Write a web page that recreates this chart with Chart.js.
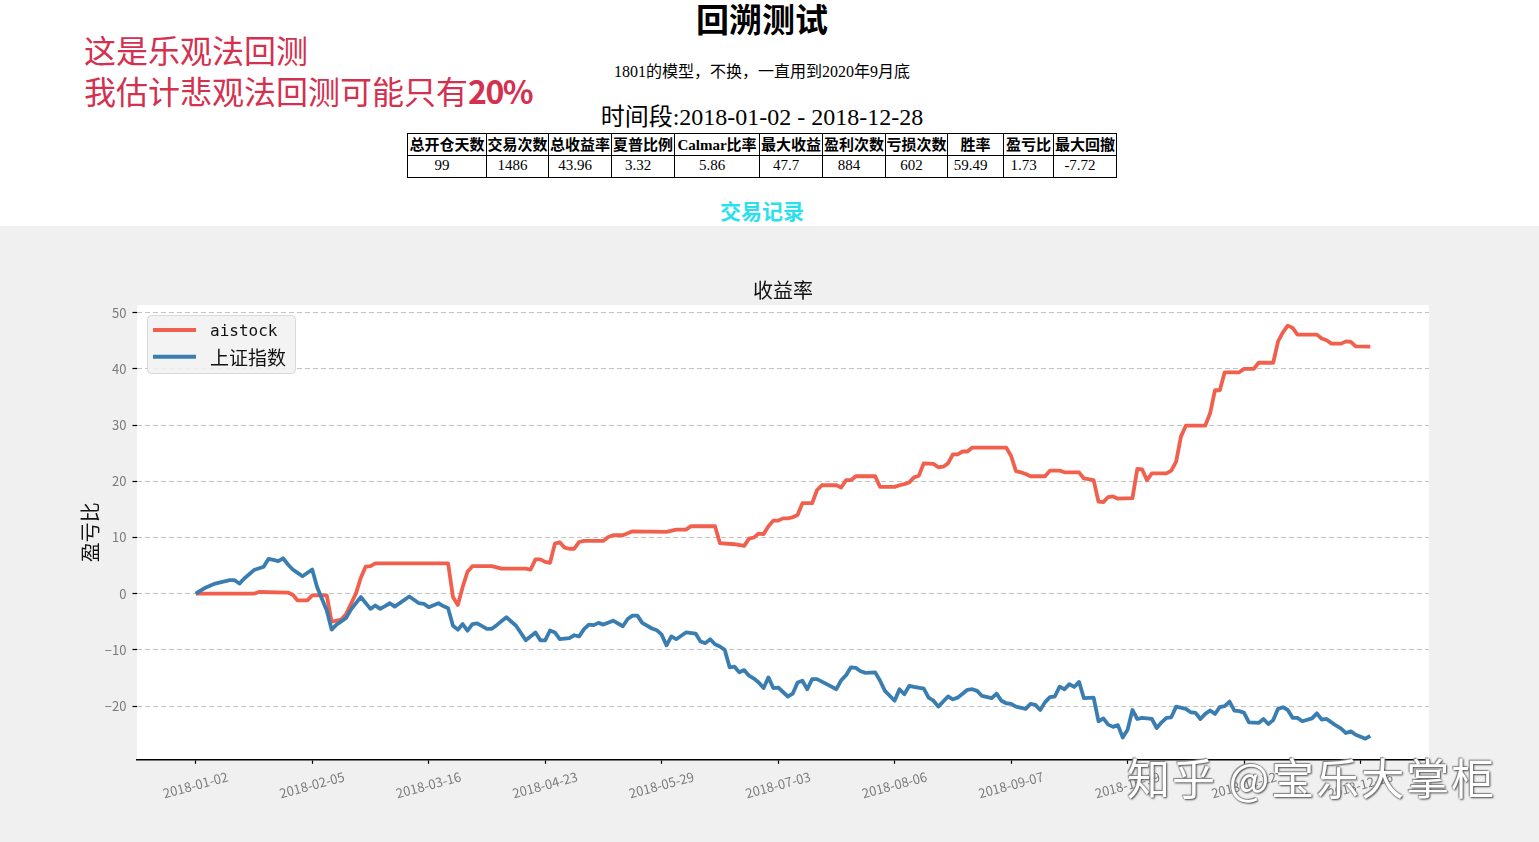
<!DOCTYPE html>
<html lang="zh">
<head>
<meta charset="utf-8">
<title>回溯测试</title>
<script src="https://cdn.jsdelivr.net/npm/chart.js@4.4.1/dist/chart.umd.min.js"></script>
<style>
  html, body { margin: 0; padding: 0; background: #fff; }
  body { width: 1539px; height: 842px; position: relative; overflow: hidden;
         font-family: 'Noto Sans CJK SC', 'DejaVu Sans', sans-serif; color: #000; }
  .note { position: absolute; left: 84px; top: 29px; color: #d4304f; font-size: 32px;
          line-height: 41px; white-space: nowrap; }
  .note b { font-weight: 600; letter-spacing: -1.5px; }
  .center { position: absolute; left: 0; width: 1524px; text-align: center; white-space: nowrap; }
  #title { top: -2px; font-size: 33px; font-weight: bold; line-height: 40px; }
  #subtitle { top: 62px; font-size: 16px; line-height: 20px;
              font-family: 'Liberation Serif', 'Noto Sans CJK SC', serif; }
  #period { top: 102px; font-size: 24px; line-height: 30px;
            font-family: 'Liberation Serif', 'Noto Sans CJK SC', serif; }
  #records { top: 197px; font-size: 21px; line-height: 26px; font-weight: bold; color: #2ae0ec; }
  #stats { position: absolute; left: 407px; top: 133px; border-collapse: collapse;
           table-layout: fixed; width: 709px; }
  #stats td, #stats th { border: 1px solid #000; height: 21px; padding: 0; text-align: center;
           font-family: 'Liberation Serif', 'Noto Sans CJK SC', serif; font-size: 15px;
           line-height: 20px; white-space: nowrap; overflow: hidden; }
  #stats th { font-weight: bold; }
  #stats td { padding-right: 10px; padding-bottom: 3px; line-height: 18px; height: 18px; }
  #panel { position: absolute; left: 0; top: 226px; width: 1539px; height: 616px; background: #f0f0f0; }
  #panel canvas { position: absolute; left: 0; top: 0; }
  #mark { position: absolute; left: 1127px; top: 751px; font-size: 43px; line-height: 50px;
          color: #fff; white-space: nowrap; letter-spacing: 2px;
          text-shadow: 1px 1px 2px #555, -1px -1px 1px #888, 0 0 2px #666; }
</style>
</head>
<body>
<div class="note">这是乐观法回测<br>我估计悲观法回测可能只有<b>20%</b></div>
<div id="title" class="center">回溯测试</div>
<div id="subtitle" class="center">1801的模型，不换，一直用到2020年9月底</div>
<div id="period" class="center">时间段:2018-01-02 - 2018-12-28</div>
<table id="stats"></table>
<div id="records" class="center">交易记录</div>
<div id="panel"><canvas id="chart" width="1539" height="616"></canvas></div>
<div id="mark">知乎 @宝乐大掌柜</div>

<script>
// Summary table
const statHeaders = ['总开仓天数', '交易次数', '总收益率', '夏普比例', 'Calmar比率', '最大收益',
                     '盈利次数', '亏损次数', '胜率', '盈亏比', '最大回撤'];
const statValues = ['99', '1486', '43.96', '3.32', '5.86', '47.7', '884', '602', '59.49', '1.73', '-7.72'];

// Chart: x = trading-day index in 2018, y = 收益率 (%)
const tickDays = [0, 24, 48, 72, 96, 120, 144, 168, 192, 216, 240];
const tickLabels = ['2018-01-02', '2018-02-05', '2018-03-16', '2018-04-23', '2018-05-29', '2018-07-03',
                    '2018-08-06', '2018-09-07', '2018-10-19', '2018-11-22', '2018-12-26'];
const yTicks = [-20, -10, 0, 10, 20, 30, 40, 50];

const aiDays = [0, 12, 13, 19, 20, 21, 23, 24, 27, 28, 29, 30, 31, 32, 33, 34, 35, 36, 37, 52, 53, 54, 55, 56, 57,
  61, 63, 68, 69, 70, 71, 72, 73, 74, 75, 76, 77, 78, 79, 80, 84, 85, 86, 88, 90, 97, 99, 101, 102, 107,
  108, 111, 113, 114, 115, 116, 117, 118, 119, 120, 121, 122, 123, 124, 125, 127, 128, 129, 132, 133, 134,
  135, 136, 140, 141, 144, 145, 146, 147, 148, 149, 150, 152, 153, 154, 155, 156, 157, 158, 159, 160, 167,
  168, 169, 170, 171, 172, 175, 176, 178, 179, 182, 183, 185, 186, 187, 188, 189, 190, 193, 194, 195, 196,
  197, 200, 201, 202, 203, 204, 208, 209, 210, 211, 212, 215, 216, 218, 219, 222, 223, 224, 225, 226, 227,
  231, 232, 233, 234, 236, 237, 238, 239, 242];
const aiValues = [0, 0, 0.3, 0.2, -0.2, -1.2, -1.2, -0.3, -0.3, -5.0, -4.8, -4.6, -3.6, -1.8, 0.0, 2.8, 4.8, 4.9,
  5.4, 5.4, -0.6, -2.0, 1.2, 3.9, 4.9, 4.9, 4.45, 4.45, 4.3, 6.1, 6.1, 5.65, 5.5, 8.9, 9.15, 8.2, 8.0, 8.0,
  9.2, 9.4, 9.4, 10.1, 10.4, 10.4, 11.1, 11.0, 11.4, 11.4, 12.0, 12.0, 9.0, 8.8, 8.5, 9.8, 10.0, 10.7, 10.6,
  12.0, 13.0, 13.0, 13.4, 13.4, 13.6, 14.0, 16.1, 16.1, 18.4, 19.3, 19.3, 18.9, 20.2, 20.2, 20.9, 20.9, 19.0,
  19.0, 19.3, 19.5, 19.8, 20.7, 21.0, 23.2, 23.1, 22.5, 22.6, 23.2, 24.8, 24.8, 25.3, 25.3, 26.0, 26.0, 24.5,
  21.8, 21.6, 21.3, 20.9, 20.9, 21.9, 21.9, 21.6, 21.6, 20.5, 20.2, 16.4, 16.3, 17.2, 17.3, 16.9, 17.0, 22.2,
  22.1, 20.2, 21.4, 21.4, 21.9, 23.5, 28.0, 29.9, 29.9, 32.1, 36.2, 36.2, 39.4, 39.4, 40.0, 40.0, 41.1, 41.1,
  44.9, 46.5, 47.7, 47.3, 46.1, 46.1, 45.4, 45.1, 44.5, 44.5, 44.9, 44.8, 44.0, 43.96];

const shDays = [0, 2, 4, 7, 8, 9, 10, 12, 14, 15, 16, 17, 18, 19, 20, 21, 22, 24, 25, 27, 28, 29, 31, 32, 34,
  36, 37, 38, 39, 40, 41, 44, 46, 47, 48, 50, 51, 52, 53, 54, 55, 56, 57, 58, 60, 61, 62, 64, 66, 68, 70, 71,
  72, 73, 74, 75, 77, 78, 79, 80, 81, 82, 83, 84, 86, 88, 89, 90, 91, 92, 94, 95, 96, 97, 98, 99, 101, 103,
  104, 105, 106, 107, 108, 109, 110, 111, 112, 113, 114, 115, 116, 117, 118, 119, 120, 121, 122, 123, 124,
  125, 126, 127, 128, 130, 132, 133, 134, 135, 136, 137, 138, 140, 141, 142, 144, 145, 146, 147, 148, 150,
  151, 152, 153, 155, 156, 157, 158, 159, 160, 161, 162, 164, 165, 166, 167, 168, 169, 171, 172, 173, 174,
  175, 176, 177, 178, 179, 180, 181, 182, 183, 185, 186, 187, 188, 189, 190, 191, 192, 193, 194, 195, 197,
  198, 199, 200, 201, 202, 204, 205, 206, 207, 208, 209, 210, 211, 212, 213, 214, 215, 216, 217, 219, 220,
  221, 222, 223, 224, 225, 226, 227, 228, 230, 231, 232, 233, 234, 235, 236, 237, 238, 239, 241, 242];
const shValues = [0, 1.07, 1.8, 2.4, 2.4, 1.8, 2.7, 4.2, 4.8, 6.2, 6.0, 5.8, 6.3, 5.2, 4.3, 3.7, 3.1, 4.3, 1.2,
  -3.0, -6.4, -5.5, -4.3, -2.8, -0.6, -2.7, -2.1, -2.7, -2.2, -1.7, -2.3, -0.5, -1.7, -1.8, -2.4, -1.7, -2.2,
  -2.6, -5.7, -6.4, -5.4, -6.6, -5.4, -5.3, -6.25, -6.25, -5.6, -4.2, -5.7, -8.3, -6.9, -8.3, -8.3, -6.55,
  -6.9, -8.1, -7.9, -7.4, -7.6, -6.3, -5.5, -5.6, -5.2, -5.5, -4.8, -5.8, -4.5, -3.9, -3.9, -5.2, -6.2, -6.5,
  -7.3, -9.2, -7.6, -8.1, -6.9, -7.1, -8.5, -8.8, -8.1, -9.0, -9.4, -10.0, -13.1, -13.0, -14.0, -13.6, -14.6,
  -15.1, -15.8, -16.8, -14.9, -16.8, -16.7, -17.5, -18.3, -17.8, -15.8, -15.5, -17.0, -15.2, -15.2, -16.1,
  -17.0, -15.4, -14.5, -13.1, -13.2, -13.8, -14.1, -14.0, -15.5, -17.3, -19.05, -17.0, -17.9, -16.4, -16.6,
  -16.9, -18.5, -19.05, -20.1, -18.3, -18.8, -18.5, -17.8, -17.1, -17.0, -17.3, -18.2, -18.6, -17.8, -19.05,
  -19.5, -19.6, -20.1, -20.5, -19.6, -19.8, -20.7, -19.3, -18.4, -18.3, -16.55, -17.0, -16.1, -16.6, -15.7,
  -18.6, -18.5, -22.7, -22.2, -23.3, -23.7, -23.4, -25.6, -24.2, -20.7, -22.3, -22.1, -22.3, -23.9, -22.9,
  -22.1, -22.0, -20.1, -20.5, -21.1, -21.2, -22.3, -21.4, -20.8, -21.4, -20.2, -20.0, -19.2, -20.8, -20.9,
  -21.2, -22.9, -23.0, -22.3, -23.2, -22.5, -20.5, -20.2, -20.7, -22.1, -22.1, -22.7, -22.2, -21.3, -22.4,
  -22.3, -22.9, -23.5, -24.0, -24.8, -24.5, -25.1, -25.8, -25.3];

// build the table
const colWidths = [79, 62, 63, 63, 85, 63, 63, 62, 56, 50, 63];
const table = document.getElementById('stats');
table.innerHTML =
  '<colgroup>' + colWidths.map(w => `<col style="width:${w}px">`).join('') + '</colgroup>' +
  '<tr>' + statHeaders.map(h => `<th>${h}</th>`).join('') + '</tr>' +
  '<tr>' + statValues.map(v => `<td>${v}</td>`).join('') + '</tr>';

// axis limits with matplotlib-like 5% margins
const lastDay = aiDays[aiDays.length - 1];
const xPad = lastDay * 0.05;
const allVals = aiValues.concat(shValues);
const vMin = Math.min(...allVals), vMax = Math.max(...allVals);
const yPad = (vMax - vMin) * 0.05;

Chart.defaults.font.family = "'Noto Sans CJK SC', 'DejaVu Sans', sans-serif";

// white plot area on the grey figure
const plotBg = {
  id: 'plotBg',
  beforeDraw(chart) {
    const { ctx, chartArea: a } = chart;
    ctx.save();
    ctx.fillStyle = '#fff';
    ctx.fillRect(a.left, a.top, a.right - a.left, a.bottom - a.top);
    ctx.restore();
  }
};

// matplotlib style legend in the upper left of the plot
const legendBox = {
  id: 'legendBox',
  afterDatasetsDraw(chart) {
    const { ctx, chartArea } = chart;
    const x = chartArea.left + 10, y = chartArea.top + 10;
    ctx.save();
    ctx.beginPath();
    ctx.roundRect(x + 0.5, y + 0.5, 148, 58, 4);
    ctx.fillStyle = 'rgba(242,242,242,0.9)';
    ctx.fill();
    ctx.strokeStyle = '#d8d8d8';
    ctx.lineWidth = 1;
    ctx.stroke();
    chart.data.datasets.forEach((ds, i) => {
      const cy = y + 15 + i * 26.7;
      ctx.strokeStyle = ds.borderColor;
      ctx.lineWidth = 4;
      ctx.beginPath();
      ctx.moveTo(x + 6, cy);
      ctx.lineTo(x + 49, cy);
      ctx.stroke();
      ctx.fillStyle = '#111';
      ctx.textBaseline = 'middle';
      ctx.font = /[\u4e00-\u9fff]/.test(ds.label) ? "19px 'Noto Sans CJK SC'" : "16px 'DejaVu Sans Mono'";
      ctx.fillText(ds.label, x + 63, cy + 1.5);
    });
    ctx.restore();
  }
};

new Chart(document.getElementById('chart'), {
  type: 'line',
  data: {
    datasets: [
      {
        label: 'aistock',
        data: aiDays.map((d, i) => ({ x: d, y: aiValues[i] })),
        borderColor: '#F0604D',
        borderWidth: 3.8,
        pointRadius: 0,
        tension: 0,
        borderJoinStyle: 'round',
        order: 1
      },
      {
        label: '上证指数',
        data: shDays.map((d, i) => ({ x: d, y: shValues[i] })),
        borderColor: '#3A7DB0',
        borderWidth: 3.8,
        pointRadius: 0,
        tension: 0,
        borderJoinStyle: 'round',
        order: 0
      }
    ]
  },
  options: {
    responsive: false,
    animation: false,
    layout: { padding: { left: 0, right: 110, top: 0, bottom: 0 } },
    plugins: {
      legend: { display: false },
      tooltip: { enabled: false },
      title: {
        display: true,
        text: '收益率',
        fullSize: false,
        color: '#111',
        font: { size: 20, weight: 'normal' },
        padding: { top: 52, bottom: 3 }
      }
    },
    scales: {
      x: {
        type: 'linear',
        min: -xPad,
        max: lastDay + xPad,
        afterBuildTicks: s => { s.ticks = tickDays.map(v => ({ value: v })); },
        afterFit: s => { s.height = 82.7; },
        ticks: {
          autoSkip: false,
          minRotation: 15,
          maxRotation: 15,
          labelOffset: 32,
          padding: 5,
          color: '#7a7a7a',
          font: { size: 13 },
          callback: v => { const i = tickDays.indexOf(v); return i >= 0 ? tickLabels[i] : ''; }
        },
        grid: { drawOnChartArea: false, drawTicks: true, tickLength: 4.5, tickColor: '#000', tickWidth: 1.2 },
        border: { display: true, color: '#000', width: 1.5 }
      },
      y: {
        min: vMin - yPad,
        max: vMax + yPad,
        afterBuildTicks: s => { s.ticks = yTicks.map(v => ({ value: v })); },
        afterFit: s => { s.width = 137; },
        ticks: {
          padding: 6,
          color: '#7a7a7a',
          font: { size: 13 },
          callback: v => (v < 0 ? '\u2212' + Math.abs(v) : String(v))
        },
        grid: { color: '#c4c4c4', lineWidth: 1, drawTicks: true, tickLength: 4.5,
                tickColor: '#000', tickWidth: 1.2, tickBorderDash: [] },
        border: { display: false, dash: [5, 3] },
        title: { display: true, text: '盈亏比', color: '#111', font: { size: 20 }, padding: { top: 78, bottom: 0 } }
      }
    }
  },
  plugins: [plotBg, legendBox]
});
</script>
</body>
</html>
